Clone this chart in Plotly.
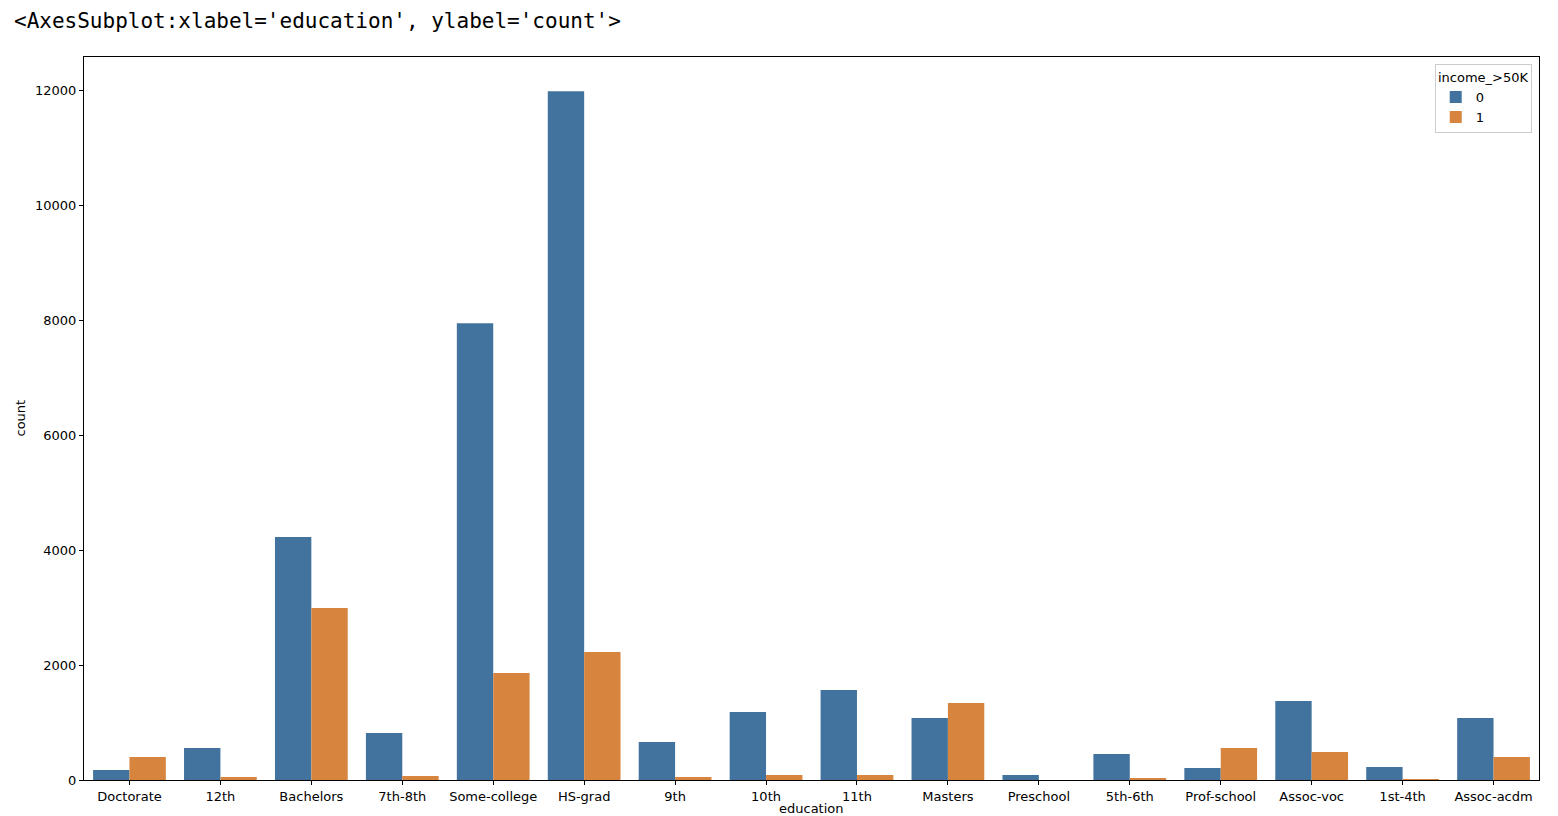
import plotly.graph_objects as go

categories = ["Doctorate", "12th", "Bachelors", "7th-8th", "Some-college", "HS-grad", "9th",
              "10th", "11th", "Masters", "Preschool", "5th-6th", "Prof-school", "Assoc-voc",
              "1st-4th", "Assoc-acdm"]
income_0 = [174, 556, 4226, 817, 7948, 11983, 661, 1183, 1565, 1078, 87, 452, 209, 1374, 226, 1078]
income_1 = [400, 52, 2991, 70, 1861, 2226, 52, 87, 87, 1339, 0, 35, 557, 487, 17, 400]
y_ticks = [0, 2000, 4000, 6000, 8000, 10000, 12000]
y_tick_labels = [str(v) for v in y_ticks]

fig = go.Figure()
fig.add_trace(go.Bar(x=categories, y=income_0, name="0", marker=dict(color="#42739e", line=dict(width=0))))
fig.add_trace(go.Bar(x=categories, y=income_1, name="1", marker=dict(color="#d6843e", line=dict(width=0))))

fig.update_layout(
    width=1558, height=816,
    margin=dict(l=84, r=19, t=57, b=36, autoexpand=False),
    paper_bgcolor="white", plot_bgcolor="white",
    barmode="group", bargap=0.2, bargroupgap=0,
    font=dict(family="DejaVu Sans", size=13, color="black"),
    legend=dict(
        title=dict(text="income_>50K", font=dict(size=13), side="top center"),
        x=0.995, y=0.99, xanchor="right", yanchor="top",
        bgcolor="rgba(255,255,255,0.8)", bordercolor="#cccccc", borderwidth=1,
        font=dict(size=13),
    ),
    annotations=[
        dict(
            text="<AxesSubplot:xlabel='education', ylabel='count'>",
            xref="paper", yref="paper", x=0, y=1, xanchor="left", yanchor="bottom",
            xshift=-72, yshift=22, showarrow=False,
            font=dict(family="DejaVu Sans Mono", size=21, color="black"),
        ),
        dict(
            text="education",
            xref="paper", yref="paper", x=0.5, y=0, xanchor="center", yanchor="top",
            yshift=-19, showarrow=False, font=dict(size=13),
        ),
        dict(
            text="count", textangle=-90,
            xref="paper", yref="paper", x=0, y=0.5, xanchor="center", yanchor="middle",
            xshift=-64, showarrow=False, font=dict(size=13),
        ),
    ],
)
fig.update_xaxes(
    range=[-0.5, len(categories) - 0.5], automargin=False,
    showline=True, linecolor="black", linewidth=1, mirror=True,
    ticks="outside", ticklen=4, tickcolor="black",
    showgrid=False,
)
fig.update_yaxes(
    range=[0, 12580], tickvals=y_ticks, ticktext=y_tick_labels, automargin=False,
    showline=True, linecolor="black", linewidth=1, mirror=True,
    ticks="outside", ticklen=4, tickcolor="black",
    showgrid=False, zeroline=False,
)

fig.write_html("out.html")
